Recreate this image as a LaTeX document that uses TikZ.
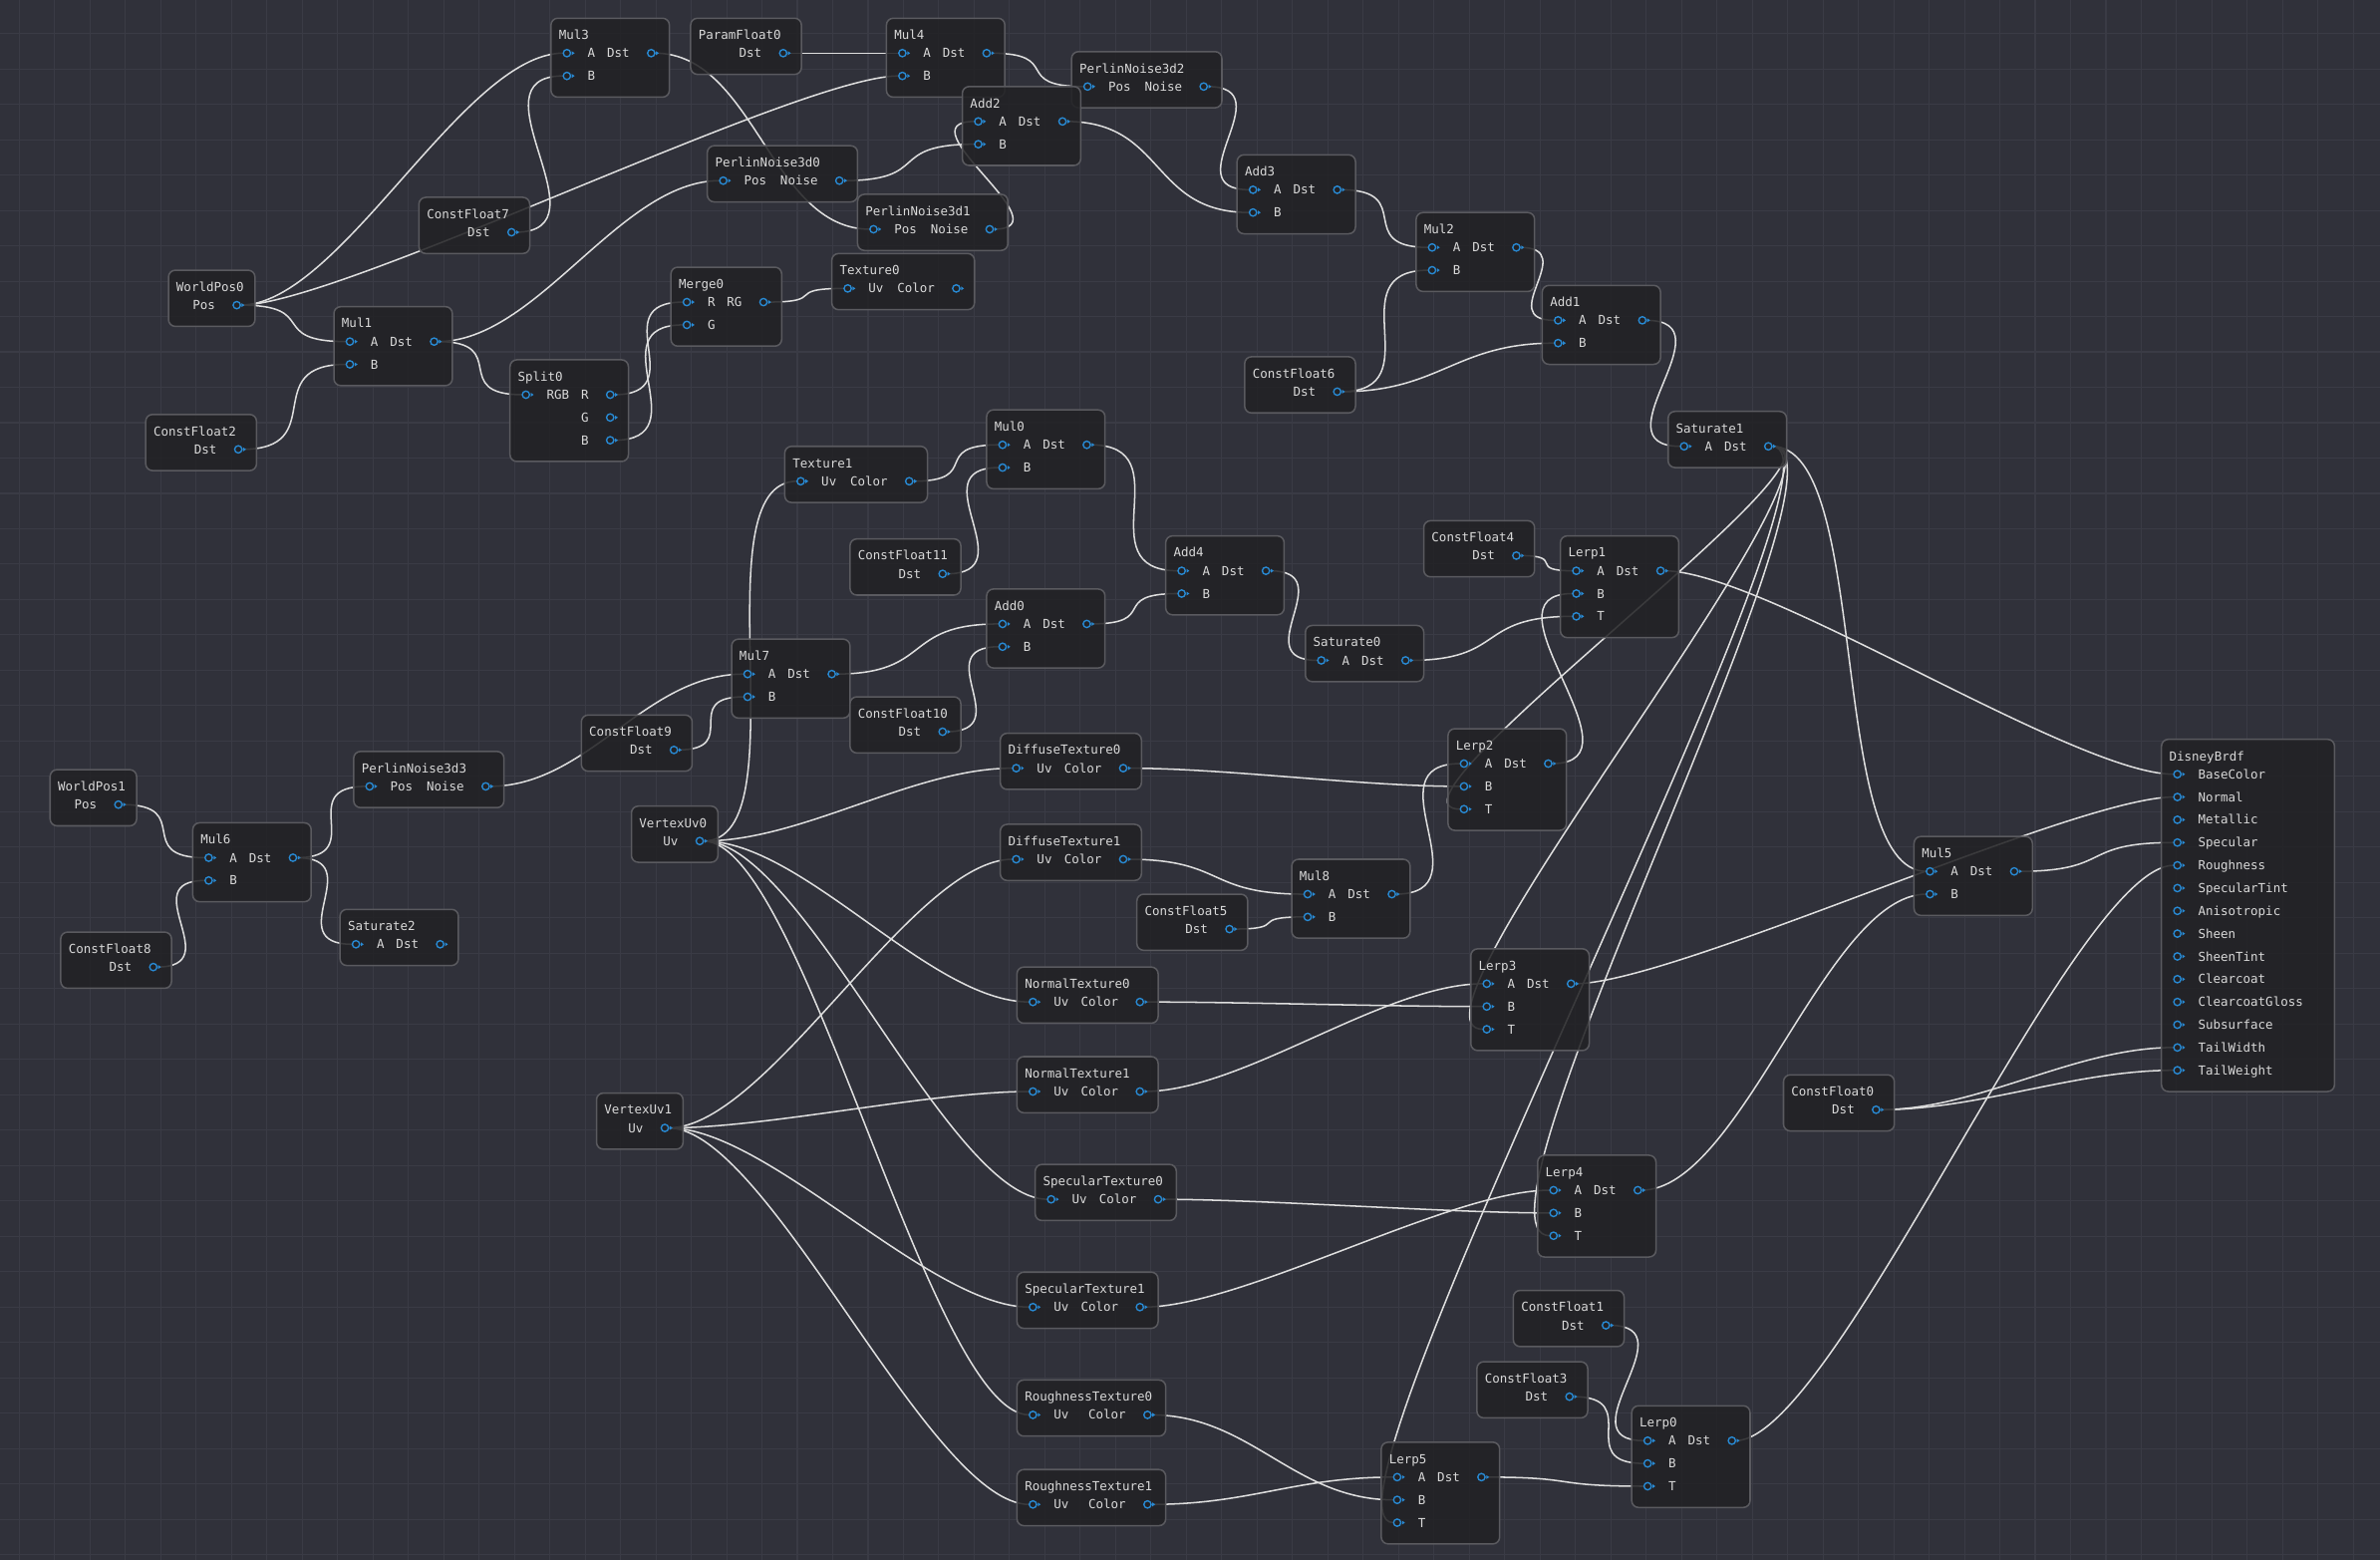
\documentclass[tikz,border=0pt]{standalone}
\usepackage{fontspec}
\newfontfamily\graphfont{DejaVu Sans Mono}
\usetikzlibrary{calc}

\definecolor{canvas}{RGB}{48,49,58}
\definecolor{gridcol}{RGB}{58,59,69}
\definecolor{boxfill}{RGB}{34,34,37}
\definecolor{boxline}{RGB}{90,90,95}
\definecolor{labeltext}{RGB}{218,218,218}
\definecolor{pinblue}{RGB}{40,138,212}
\definecolor{wirecol}{RGB}{222,222,222}

\pgfdeclarelayer{grid}
\pgfdeclarelayer{wires}
\pgfsetlayers{grid,wires,main}

% box and title: name, x, y, width, rows, title
\newcommand{\gnode}[6]{
  \node[gbox, minimum width=#4pt, minimum height={(37+15*(#5-1))*1pt}] (#1) at (#2,#3) {};
  \node[glabel] at ($(#1.north west)+(5,11)$) {#6};
}
% input pin: node, row, label, pin name
\newcommand{\gin}[4]{
  \node[pinport] (#4) at ($(#1.north west)+(10.5,{23+15*(#2-1)})$) {};
  \fill[pinblue] ($(#4.east)+(0.8,-1.3)$) -- ++(1.9,1.3) -- ++(-1.9,1.3) -- cycle;
  \node[glabel] at ($(#1.north west)+(24,{23+15*(#2-1)})$) {#3};
}
% output pin: node, row, label, pin name
\newcommand{\gout}[4]{
  \node[pinport] (#4) at ($(#1.north east)+(-12,{23+15*(#2-1)})$) {};
  \fill[pinblue] ($(#4.east)+(0.8,-1.3)$) -- ++(1.9,1.3) -- ++(-1.9,1.3) -- cycle;
  \node[glabel, anchor=east] at ($(#1.north east)+(-26,{23+15*(#2-1)})$) {#3};
}
\newcommand{\binop}[4]{\gnode{#1}{#2}{#3}{78}{2}{#4}\gin{#1}{1}{A}{#1-a}\gin{#1}{2}{B}{#1-b}\gout{#1}{1}{Dst}{#1-o}}
\newcommand{\lerpop}[4]{\gnode{#1}{#2}{#3}{78}{3}{#4}\gin{#1}{1}{A}{#1-a}\gin{#1}{2}{B}{#1-b}\gin{#1}{3}{T}{#1-t}\gout{#1}{1}{Dst}{#1-o}}
\newcommand{\unop}[7]{\gnode{#1}{#2}{#3}{#4}{1}{#5}\gin{#1}{1}{#6}{#1-i}\gout{#1}{1}{#7}{#1-o}}
\newcommand{\srcnode}[6]{\gnode{#1}{#2}{#3}{#4}{1}{#5}\gout{#1}{1}{#6}{#1-o}}
\newcommand{\constf}[4]{\srcnode{#1}{#2}{#3}{73}{#4}{Dst}}

\begin{document}
\begin{tikzpicture}[
    x=1pt, y=-1pt,
    gbox/.style={draw=boxline, fill=boxfill, fill opacity=0.87, line width=1pt, rounded corners=4.5pt, anchor=north west, inner sep=0, outer sep=0},
    glabel/.style={font=\graphfont\fontsize{8.2}{9}\selectfont, text=labeltext, inner sep=0, anchor=west, text height=6pt, text depth=0pt},
    pinport/.style={circle, draw=pinblue, fill=boxfill, line width=0.9pt, minimum size=4.8pt, inner sep=0, outer sep=0},
    wire/.style={draw=wirecol, line width=1pt},
  ]
  \useasboundingbox (0,0) rectangle (1568,1027.6);

  \begin{pgfonlayer}{grid}
    \fill[canvas] (0,0) rectangle (1568,1027.6);
    \foreach \i in {0,...,66} \draw[gridcol, line width=0.7pt] ({12.7+23.3*\i},0) -- ({12.7+23.3*\i},1027.6);
    \foreach \j in {0,...,43} \draw[gridcol, line width=0.7pt] (0,{22.1+23.3*\j}) -- (1568,{22.1+23.3*\j});
  \end{pgfonlayer}

  % upper noise chain
  \binop{mul3}{363}{12}{Mul3}
  \constf{paramf0}{455}{12}{ParamFloat0}
  \binop{mul4}{584}{12}{Mul4}
  \unop{pn2}{706}{34}{99}{PerlinNoise3d2}{Pos}{Noise}
  \binop{add2}{634}{57}{Add2}
  \unop{pn0}{466}{96}{99}{PerlinNoise3d0}{Pos}{Noise}
  \unop{pn1}{565}{128}{99}{PerlinNoise3d1}{Pos}{Noise}
  \binop{add3}{815}{102}{Add3}
  \binop{mul2}{933}{140}{Mul2}
  \binop{add1}{1016}{188}{Add1}
  \constf{cf6}{820}{235}{ConstFloat6}
  \unop{sat1}{1099}{271}{78}{Saturate1}{A}{Dst}
  \constf{cf7}{276}{130}{ConstFloat7}
  \srcnode{wp0}{111}{178}{57}{WorldPos0}{Pos}
  \binop{mul1}{220}{202}{Mul1}
  \constf{cf2}{96}{273}{ConstFloat2}
  \gnode{split0}{336}{237}{78}{3}{Split0}
  \gin{split0}{1}{RGB}{split0-i}
  \gout{split0}{1}{R}{split0-r}
  \gout{split0}{2}{G}{split0-g}
  \gout{split0}{3}{B}{split0-b}
  \gnode{merge0}{442}{176}{73}{2}{Merge0}
  \gin{merge0}{1}{R}{merge0-r}
  \gin{merge0}{2}{G}{merge0-g}
  \gout{merge0}{1}{RG}{merge0-o}
  \unop{tex0}{548}{167}{94}{Texture0}{Uv}{Color}

  % middle
  \unop{tex1}{517}{294}{94}{Texture1}{Uv}{Color}
  \binop{mul0}{650}{270}{Mul0}
  \constf{cf11}{560}{355}{ConstFloat11}
  \binop{add4}{768}{353}{Add4}
  \binop{add0}{650}{388}{Add0}
  \constf{cf4}{938}{343}{ConstFloat4}
  \lerpop{lerp1}{1028}{353}{Lerp1}
  \unop{sat0}{860}{412}{78}{Saturate0}{A}{Dst}
  \binop{mul7}{482}{421}{Mul7}
  \constf{cf10}{560}{459}{ConstFloat10}
  \constf{cf9}{383}{471}{ConstFloat9}
  \unop{pn3}{233}{495}{99}{PerlinNoise3d3}{Pos}{Noise}
  \srcnode{wp1}{33}{507}{57}{WorldPos1}{Pos}
  \binop{mul6}{127}{542}{Mul6}
  \unop{sat2}{224}{599}{78}{Saturate2}{A}{Dst}
  \constf{cf8}{40}{614}{ConstFloat8}

  % textures and lerps
  \srcnode{vuv0}{416}{531}{57}{VertexUv0}{Uv}
  \unop{dt0}{659}{483}{93}{DiffuseTexture0}{Uv}{Color}
  \lerpop{lerp2}{954}{480}{Lerp2}
  \unop{dt1}{659}{543}{93}{DiffuseTexture1}{Uv}{Color}
  \binop{mul8}{851}{566}{Mul8}
  \constf{cf5}{749}{589}{ConstFloat5}
  \unop{nt0}{670}{637}{93}{NormalTexture0}{Uv}{Color}
  \lerpop{lerp3}{969}{625}{Lerp3}
  \unop{nt1}{670}{696}{93}{NormalTexture1}{Uv}{Color}
  \srcnode{vuv1}{393}{720}{57}{VertexUv1}{Uv}
  \unop{st0}{682}{767}{93}{SpecularTexture0}{Uv}{Color}
  \lerpop{lerp4}{1013}{761}{Lerp4}
  \unop{st1}{670}{838}{93}{SpecularTexture1}{Uv}{Color}
  \constf{cf1}{997}{850}{ConstFloat1}
  \constf{cf3}{973}{897}{ConstFloat3}
  \unop{rt0}{670}{909}{98}{RoughnessTexture0}{Uv}{Color}
  \lerpop{lerp0}{1075}{926}{Lerp0}
  \unop{rt1}{670}{968}{98}{RoughnessTexture1}{Uv}{Color}
  \lerpop{lerp5}{910}{950}{Lerp5}
  \binop{mul5}{1261}{551}{Mul5}
  \constf{cf0}{1175}{708}{ConstFloat0}

  % output
  \gnode{brdf}{1424}{487}{114}{14}{DisneyBrdf}
  \foreach \i/\l in {1/BaseColor, 2/Normal, 3/Metallic, 4/Specular, 5/Roughness, 6/SpecularTint, 7/Anisotropic, 8/Sheen, 9/SheenTint, 10/Clearcoat, 11/ClearcoatGloss, 12/Subsurface, 13/TailWidth, 14/TailWeight}
    {\gin{brdf}{\i}{\l}{brdf-\i}}

  % links: fixed pull of 65.7, eased for short links
  \begin{pgfonlayer}{wires}
    \foreach \a/\b in {wp0-o/mul3-a, wp0-o/mul4-b, wp0-o/mul1-a, cf7-o/mul3-b, mul3-o/pn1-i, paramf0-o/mul4-a,
        mul4-o/pn2-i, pn2-o/add3-a, mul1-o/pn0-i, mul1-o/split0-i, cf2-o/mul1-b, pn0-o/add2-b, pn1-o/add2-a,
        add2-o/add3-b, add3-o/mul2-a, cf6-o/mul2-b, cf6-o/add1-b, mul2-o/add1-a, add1-o/sat1-i,
        split0-r/merge0-r, split0-b/merge0-g, merge0-o/tex0-i,
        tex1-o/mul0-a, cf11-o/mul0-b, mul0-o/add4-a, add0-o/add4-b, mul7-o/add0-a, cf10-o/add0-b,
        add4-o/sat0-i, sat0-o/lerp1-t, cf4-o/lerp1-a, lerp2-o/lerp1-b, lerp1-o/brdf-1,
        sat1-o/lerp2-t, sat1-o/lerp3-t, sat1-o/lerp4-t, sat1-o/lerp5-t, sat1-o/mul5-a,
        mul5-o/brdf-4, lerp3-o/brdf-2, lerp4-o/mul5-b, lerp0-o/brdf-5, cf0-o/brdf-13, cf0-o/brdf-14,
        cf1-o/lerp0-a, cf3-o/lerp0-b, lerp5-o/lerp0-t, rt0-o/lerp5-b, rt1-o/lerp5-a,
        st0-o/lerp4-b, st1-o/lerp4-a, nt0-o/lerp3-b, nt1-o/lerp3-a, dt0-o/lerp2-b,
        dt1-o/mul8-a, cf5-o/mul8-b, mul8-o/lerp2-a,
        vuv0-o/tex1-i, vuv0-o/dt0-i, vuv0-o/nt0-i, vuv0-o/st0-i, vuv0-o/rt0-i,
        pn3-o/mul7-a, cf9-o/mul7-b, wp1-o/mul6-a, cf8-o/mul6-b, mul6-o/pn3-i, mul6-o/sat2-i,
        vuv1-o/dt1-i, vuv1-o/nt1-i, vuv1-o/st1-i, vuv1-o/rt1-i}
      \draw[wire] (\a.east) let \p1=($(\b)-(\a)$), \n1={veclen(\x1/2,\y1/2)},
        \n2={65.7*sin(min(90,1.36986*\n1))} in
        .. controls +(\n2,0) and +(-\n2,0) .. (\b.west);
  \end{pgfonlayer}
\end{tikzpicture}
\end{document}
